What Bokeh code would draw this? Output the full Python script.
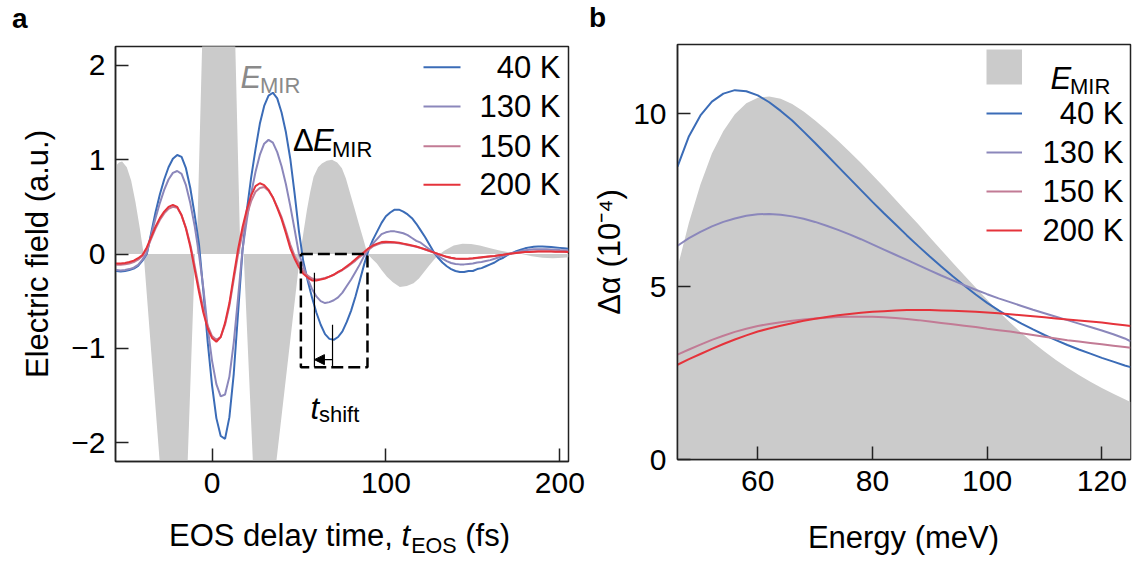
from bokeh.plotting import figure
from bokeh.layouts import row, column
from bokeh.models import FixedTicker, Label, Arrow, NormalHead, Div
from bokeh.embed import file_html
from bokeh.resources import INLINE

FONT = "Liberation Sans"

# ---------------- panel a data: EOS waveforms ----------------
t_fs = [-57.5, -55, -52.5, -50, -47.5, -45, -42.5, -40, -37.5, -35,
        -32.5, -30, -27.5, -25, -22.5, -20, -17.5, -15, -12.5, -10,
        -7.5, -5, -2.5, 0, 2.5, 5, 7.5, 10, 12.5, 15,
        17.5, 20, 22.5, 25, 27.5, 30, 32.5, 35, 37.5, 40,
        42.5, 45, 47.5, 50, 52.5, 55, 57.5, 60, 62.5, 65,
        67.5, 70, 72.5, 75, 77.5, 80, 82.5, 85, 87.5, 90,
        92.5, 95, 97.5, 100, 102.5, 105, 107.5, 110, 112.5, 115,
        117.5, 120, 122.5, 125, 127.5, 130, 132.5, 135, 137.5, 140,
        142.5, 145, 147.5, 150, 152.5, 155, 157.5, 160, 162.5, 165,
        167.5, 170, 172.5, 175, 177.5, 180, 182.5, 185, 187.5, 190,
        192.5, 195, 197.5, 200, 202.5, 205]

field_40K = [-0.18, -0.18, -0.185, -0.18, -0.17, -0.155, -0.125, -0.07, 0.0, 0.22,
             0.44, 0.63, 0.79, 0.92, 1.01, 1.05, 1.03, 0.91, 0.70, 0.42,
             0.105, -0.39, -0.93, -1.39, -1.74, -1.93, -1.96, -1.73, -1.27, -0.62,
             0.03, 0.46, 0.81, 1.11, 1.38, 1.57, 1.68, 1.71, 1.65, 1.50,
             1.29, 1.01, 0.64, 0.24, -0.08, -0.28, -0.46, -0.62, -0.75, -0.85,
             -0.90, -0.91, -0.88, -0.82, -0.72, -0.60, -0.45, -0.28, -0.11, 0.04,
             0.15, 0.24, 0.33, 0.40, 0.44, 0.47, 0.47, 0.45, 0.42, 0.38,
             0.32, 0.25, 0.18, 0.10, 0.02, -0.04, -0.09, -0.13, -0.16, -0.18,
             -0.19, -0.19, -0.18, -0.18, -0.16, -0.15, -0.13, -0.11, -0.09, -0.06,
             -0.04, -0.01, 0.01, 0.03, 0.045, 0.06, 0.07, 0.077, 0.08, 0.08,
             0.078, 0.075, 0.07, 0.065, 0.06, 0.055]

field_130K = [-0.17, -0.17, -0.175, -0.17, -0.16, -0.145, -0.115, -0.06, 0.01, 0.20,
              0.38, 0.54, 0.68, 0.79, 0.86, 0.88, 0.85, 0.73, 0.54, 0.30,
              0.0, -0.36, -0.78, -1.13, -1.38, -1.51, -1.49, -1.30, -0.94, -0.46,
              0.04, 0.36, 0.64, 0.87, 1.05, 1.17, 1.21, 1.18, 1.08, 0.93,
              0.74, 0.51, 0.26, 0.0, -0.13, -0.26, -0.37, -0.45, -0.50, -0.52,
              -0.51, -0.49, -0.46, -0.41, -0.34, -0.27, -0.19, -0.11, -0.02, 0.05,
              0.11, 0.16, 0.21, 0.23, 0.24, 0.24, 0.23, 0.22, 0.20, 0.17,
              0.14, 0.12, 0.085, 0.05, 0.015, -0.02, -0.05, -0.075, -0.095, -0.105,
              -0.11, -0.11, -0.105, -0.10, -0.09, -0.085, -0.075, -0.065, -0.05, -0.035,
              -0.02, -0.005, 0.01, 0.02, 0.03, 0.04, 0.045, 0.05, 0.05, 0.05,
              0.05, 0.048, 0.045, 0.042, 0.04, 0.038]

field_150K = [-0.115, -0.115, -0.115, -0.11, -0.10, -0.085, -0.06, -0.02, 0.05, 0.16,
              0.27, 0.36, 0.43, 0.48, 0.50, 0.49, 0.41, 0.28, 0.10, -0.12,
              -0.36, -0.58, -0.76, -0.87, -0.91, -0.88, -0.75, -0.55, -0.27, 0.0,
              0.22, 0.41, 0.56, 0.66, 0.70, 0.71, 0.67, 0.60, 0.50, 0.39,
              0.25, 0.10, -0.02, -0.10, -0.18, -0.23, -0.26, -0.27, -0.265, -0.255,
              -0.24, -0.22, -0.195, -0.17, -0.14, -0.105, -0.07, -0.03, 0.005, 0.045,
              0.08, 0.10, 0.115, 0.12, 0.12, 0.118, 0.113, 0.105, 0.095, 0.086,
              0.076, 0.063, 0.048, 0.032, 0.016, 0.0, -0.016, -0.032, -0.043, -0.05,
              -0.054, -0.054, -0.052, -0.048, -0.043, -0.038, -0.032, -0.027, -0.021, -0.014,
              -0.007, 0.0, 0.006, 0.012, 0.017, 0.021, 0.024, 0.026, 0.028, 0.029,
              0.029, 0.028, 0.027, 0.026, 0.025, 0.024]

field_200K = [-0.10, -0.10, -0.10, -0.095, -0.085, -0.07, -0.045, -0.01, 0.07, 0.18,
              0.29, 0.38, 0.45, 0.50, 0.52, 0.50, 0.41, 0.27, 0.08, -0.16,
              -0.40, -0.62, -0.79, -0.89, -0.93, -0.88, -0.73, -0.52, -0.23, 0.05,
              0.28, 0.47, 0.62, 0.72, 0.75, 0.73, 0.68, 0.60, 0.49, 0.37,
              0.22, 0.06, -0.05, -0.14, -0.21, -0.25, -0.28, -0.28, -0.27, -0.26,
              -0.24, -0.22, -0.19, -0.165, -0.13, -0.095, -0.055, -0.016, 0.02, 0.06,
              0.09, 0.11, 0.126, 0.13, 0.128, 0.125, 0.12, 0.11, 0.10, 0.09,
              0.08, 0.065, 0.05, 0.033, 0.017, 0.0, -0.015, -0.03, -0.04, -0.048,
              -0.05, -0.05, -0.048, -0.045, -0.04, -0.035, -0.03, -0.025, -0.02, -0.013,
              -0.007, 0.0, 0.005, 0.01, 0.015, 0.02, 0.022, 0.025, 0.026, 0.027,
              0.027, 0.026, 0.025, 0.024, 0.023, 0.022]

# E_MIR reference waveform (grey), clipped by the axes
emir_t = [-57.5, -55.5, -53.5, -51.7, -49, -46.5, -44, -41.5, -39.3, -30.1,
          -27, -22, -17, -14, -9.8, -8.8, -5.7, -3, 3, 10,
          13.4, 16.3, 18.2, 23.5, 27, 32, 37, 50.7, 52.5, 54.6,
          56.5, 58.4, 61, 63.2, 66, 69, 72, 74.7, 77, 79.5,
          82, 84.3, 87, 89.4, 92, 94.8, 97.5, 100.6, 104, 108,
          112, 115.9, 119, 121.6, 125, 129.5, 131, 134, 139, 144,
          149, 154, 160, 166, 172, 178, 184, 190, 196, 202, 205]
emir_E = [0.85, 0.93, 0.97, 0.98, 0.92, 0.78, 0.55, 0.27, 0.0, -2.2,
          -2.9, -3.1, -2.9, -2.2, 0.0, 0.0, 2.2, 3.6, 4.5, 3.6,
          2.2, 0.0, 0.0, -2.2, -2.9, -2.9, -2.2, 0.0, 0.22, 0.47,
          0.66, 0.82, 0.92, 0.96, 0.99, 1.0, 0.97, 0.91, 0.80, 0.64,
          0.48, 0.33, 0.16, 0.0, -0.05, -0.10, -0.17, -0.24, -0.30, -0.35,
          -0.34, -0.31, -0.26, -0.20, -0.12, -0.02, 0.0, 0.04, 0.09, 0.11,
          0.105, 0.09, 0.06, 0.035, 0.015, 0.0, -0.025, -0.04, -0.045, -0.04, -0.035]

# t_shift annotation
shift_box_t = [51.1, 89.4]
shift_box_E = [-1.2, 0.0]
shift_marks_t = [58.9, 69.3]
shift_marks_top = [-0.2, -0.75]
shift_arrow_E = -1.12

# ---------------- panel b data: differential absorption ----------------
energy_meV = [46, 48, 50, 52, 54, 56, 58, 60, 62, 64,
              66, 68, 70, 72, 74, 76, 78, 80, 82, 84,
              86, 88, 90, 92, 94, 96, 98, 100, 102, 104,
              106, 108, 110, 112, 114, 116, 118, 120, 122, 124, 125]
emir_spectrum = [5.55, 6.85, 7.95, 8.85, 9.5, 9.98, 10.3, 10.46, 10.5, 10.43,
                 10.28, 10.06, 9.8, 9.52, 9.22, 8.9, 8.57, 8.23, 7.88, 7.52,
                 7.16, 6.8, 6.43, 6.06, 5.69, 5.33, 4.97, 4.62, 4.28, 3.96,
                 3.66, 3.38, 3.12, 2.88, 2.65, 2.44, 2.25, 2.07, 1.9, 1.74, 1.66]
dalpha_40K = [8.47, 9.35, 9.95, 10.35, 10.58, 10.68, 10.65, 10.53, 10.33, 10.08,
              9.8, 9.48, 9.15, 8.81, 8.47, 8.13, 7.79, 7.45, 7.12, 6.8,
              6.48, 6.17, 5.87, 5.58, 5.3, 5.03, 4.77, 4.53, 4.31, 4.11,
              3.93, 3.76, 3.6, 3.45, 3.31, 3.18, 3.06, 2.94, 2.83, 2.72, 2.67]
dalpha_130K = [6.18, 6.4, 6.58, 6.74, 6.87, 6.97, 7.05, 7.09, 7.1, 7.08,
               7.03, 6.96, 6.87, 6.76, 6.64, 6.51, 6.37, 6.22, 6.07, 5.92,
               5.77, 5.62, 5.47, 5.32, 5.18, 5.04, 4.91, 4.78, 4.66, 4.55,
               4.44, 4.33, 4.23, 4.13, 4.03, 3.93, 3.83, 3.73, 3.62, 3.5, 3.42]
dalpha_150K = [3.03, 3.18, 3.32, 3.46, 3.58, 3.69, 3.78, 3.86, 3.92, 3.97,
               4.01, 4.05, 4.08, 4.1, 4.12, 4.13, 4.13, 4.13, 4.11, 4.09,
               4.06, 4.03, 3.99, 3.95, 3.91, 3.87, 3.83, 3.78, 3.74, 3.7,
               3.65, 3.6, 3.55, 3.5, 3.45, 3.41, 3.37, 3.33, 3.29, 3.25, 3.23]
dalpha_200K = [2.74, 2.9, 3.05, 3.2, 3.34, 3.47, 3.59, 3.7, 3.79, 3.87,
               3.94, 4.01, 4.07, 4.12, 4.17, 4.21, 4.24, 4.27, 4.29, 4.31,
               4.32, 4.32, 4.32, 4.31, 4.3, 4.29, 4.27, 4.25, 4.23, 4.2,
               4.17, 4.14, 4.11, 4.08, 4.05, 4.02, 3.99, 3.96, 3.92, 3.88, 3.86]

temps = ["40 K", "130 K", "150 K", "200 K"]
colors = ["#3b6cb7", "#8b87bb", "#c27b95", "#e5333b"]
GRAY = "#cbcbcb"

XA, YA = (-55.5, 205.0), (-2.2, 2.2)
XB, YB = (46.0, 125.0), (0.0, 12.0)

# page-pixel -> data helpers (page positions of each frame)
def ax(px):
    return XA[0] + (px - 115) * (XA[1] - XA[0]) / 453.0
def ay(py):
    return YA[1] - (py - 46) * (YA[1] - YA[0]) / 415.0
def bx(px):
    return XB[0] + (px - 677) * (XB[1] - XB[0]) / 453.0
def by(py):
    return YB[1] - (py - 44) * (YB[1] - YB[0]) / 415.0


def style(p, xt, yt):
    p.xgrid.visible = False
    p.ygrid.visible = False
    p.outline_line_color = "#222222"
    p.outline_line_width = 1.5
    p.background_fill_color = "white"
    p.border_fill_color = "white"
    for a in (p.xaxis[0], p.yaxis[0]):
        a.major_tick_in = 13
        a.major_tick_out = 0
        a.minor_tick_in = 0
        a.minor_tick_out = 0
        a.axis_line_color = "#222222"
        a.axis_line_width = 1.5
        a.major_tick_line_color = "#222222"
        a.major_tick_line_width = 1.5
        a.major_label_text_font = FONT
        a.major_label_text_font_size = "30px"
        a.major_label_text_color = "black"
        a.axis_label_text_font = FONT
        a.axis_label_text_font_size = "31px"
        a.axis_label_text_font_style = "normal"
        a.axis_label_text_color = "black"
    p.xaxis[0].ticker = FixedTicker(ticks=xt)
    p.yaxis[0].ticker = FixedTicker(ticks=yt)


def txt(p, x, y, s, size, fstyle="normal", color="black", align="left", baseline="alphabetic"):
    p.add_layout(Label(x=x, y=y, text=s, text_font=FONT, text_font_size=f"{size}px",
                       text_font_style=fstyle, text_color=color, text_align=align,
                       text_baseline=baseline))


def strip(w, h, inner):
    html = (f'<div style="position:relative;width:{w}px;height:{h}px;overflow:visible;'
            f'font-family:\'{FONT}\';color:black;">{inner}</div>')
    return Div(text=html, width=w, height=h, margin=0)


def span(left, top, size, content, extra=""):
    return (f'<span style="position:absolute;left:{left}px;top:{top}px;font-size:{size}px;'
            f'line-height:1;white-space:nowrap;{extra}">{content}</span>')


# ---------------- panel a ----------------
pa = figure(width=588, height=471, x_range=XA, y_range=YA, output_backend="svg",
            toolbar_location=None, min_border_left=115, min_border_right=20,
            min_border_top=6, min_border_bottom=50)
style(pa, [0, 100, 200], [-2, -1, 0, 1, 2])
pa.yaxis[0].major_label_overrides = {-2: "\u22122", -1: "\u22121"}
pa.yaxis[0].major_label_standoff = 10
pa.xaxis[0].major_label_standoff = 11
pa.yaxis[0].axis_label = "Electric field (a.u.)"
pa.yaxis[0].axis_label_standoff = 13

pa.varea(x=emir_t, y1=0, y2=emir_E, fill_color=GRAY)
fields = [field_40K, field_130K, field_150K, field_200K]
for f, c in zip(fields, colors):
    pa.line(t_fs, f, line_color=c, line_width=2)

# dashed box and t_shift marker
bx0, bx1 = shift_box_t
be0, be1 = shift_box_E
pa.line([bx0, bx1, bx1, bx0, bx0], [be1, be1, be0, be0, be1], line_color="black",
        line_width=2.5, line_dash="12 5")
for tm, top in zip(shift_marks_t, shift_marks_top):
    pa.line([tm, tm], [top, be0], line_color="black", line_width=1.2)
pa.add_layout(Arrow(end=NormalHead(size=10, fill_color="black", line_color="black"),
                    x_start=shift_marks_t[1], y_start=shift_arrow_E,
                    x_end=shift_marks_t[0], y_end=shift_arrow_E,
                    line_color="black", line_width=1.2))
txt(pa, ax(310), ay(408), "t", 31, "italic")
txt(pa, ax(318.5), ay(414), "shift", 22)

# in-plot labels
txt(pa, ax(240), ay(77), "E", 31, "italic", "#8a8a8a")
txt(pa, ax(259.5), ay(85), "MIR", 22, "normal", "#8a8a8a")
txt(pa, ax(292.4), ay(140), "\u0394", 31)
txt(pa, ax(312.5), ay(140), "E", 31, "italic")
txt(pa, ax(331.5), ay(148.5), "MIR", 22)

# legend (panel a)
leg_rows_a = [66.7, 106, 145.7, 184.3]
for name, c, ry in zip(temps, colors, leg_rows_a):
    pa.line([ax(423), ax(460)], [ay(ry), ay(ry)], line_color=c, line_width=2)
    txt(pa, ax(560), ay(ry), name, 31, align="right", baseline="middle")

# strips above / below panel a: panel letter and composite x-axis title
ta = strip(588, 40, span(12, 5.3, 28, "a", "font-weight:bold;"))
xlabel_a = ('EOS delay time, <i>t</i><span style="font-size:21.5px;position:relative;'
            'top:7px;margin-left:1px;">EOS</span> (fs)')
la = strip(588, 50, span(169, 8.8, 31, xlabel_a))

# ---------------- panel b ----------------
pb = figure(width=550, height=473, x_range=XB, y_range=YB, output_backend="svg",
            toolbar_location=None, min_border_left=89, min_border_right=8,
            min_border_top=6, min_border_bottom=52)
style(pb, [60, 80, 100, 120], [0, 5, 10])
pb.yaxis[0].major_label_standoff = 11
pb.xaxis[0].major_label_standoff = 11
pb.yaxis[0].axis_label = "\u0394\u03b1 (10\u207b\u2074)"
pb.yaxis[0].axis_label_standoff = 3

pb.varea(x=energy_meV, y1=0, y2=emir_spectrum, fill_color=GRAY)
dalphas = [dalpha_40K, dalpha_130K, dalpha_150K, dalpha_200K]
for d, c in zip(dalphas, colors):
    pb.line(energy_meV, d, line_color=c, line_width=2)

# legend (panel b)
pb.quad(left=[bx(986)], right=[bx(1021.5)], top=[by(49)], bottom=[by(84)],
        fill_color=GRAY, line_color=None)
txt(pb, bx(1050), by(78.3), "E", 31, "italic")
txt(pb, bx(1069.5), by(85.5), "MIR", 22)
leg_rows_b = [113, 152, 191, 230]
for name, c, ry in zip(temps, colors, leg_rows_b):
    pb.line([bx(986), bx(1021.5)], [by(ry), by(ry)], line_color=c, line_width=2)
    txt(pb, bx(1123), by(ry), name, 31, align="right", baseline="middle")

tb = strip(550, 38, span(1, 4.3, 28, "b", "font-weight:bold;"))
lb = strip(550, 50, '<div style="position:absolute;left:0;top:11px;width:631px;'
                    'text-align:center;font-size:31px;line-height:1;white-space:nowrap;">'
                    'Energy (meV)</div>')

layout = row(column(ta, pa, la, spacing=0), column(tb, pb, lb, spacing=0), spacing=0)
open("out.html", "w").write(file_html(layout, INLINE))
